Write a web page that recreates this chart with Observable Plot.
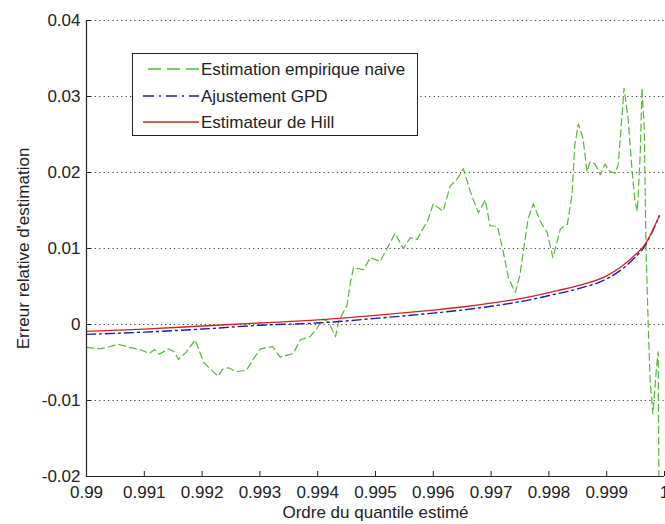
<!DOCTYPE html>
<html><head><meta charset="utf-8">
<script src="https://cdn.jsdelivr.net/npm/d3@7"></script>
<script src="https://cdn.jsdelivr.net/npm/@observablehq/plot@0.6"></script>
<style>
body{margin:0;background:#fff;}
#wrap{position:relative;width:665px;height:524px;overflow:hidden;font-family:"Liberation Sans",Arial,sans-serif;}
#legend{position:absolute;left:132px;top:53px;width:284px;height:81px;border:1px solid #222;background:#fff;}
</style></head><body><div id="wrap"></div>
<script>
const seriesNames = ["Estimation empirique naive", "Ajustement GPD", "Estimateur de Hill"];
const seriesColors = ["#55b83a", "#1c1ca8", "#d42222"];

const empiricalP = [0.99000,0.99024,0.99041,0.99055,0.99073,0.99092,0.99109,0.99118,0.99126,0.99142,0.99152,0.99159,0.99173,0.99188,0.99202,0.99213,0.99228,0.99235,0.99246,0.99259,0.99277,0.99289,0.99301,0.99322,0.99335,0.99358,0.99370,0.99387,0.99399,0.99408,0.99418,0.99431,0.99436,0.99451,0.99456,0.99462,0.99479,0.99491,0.99508,0.99520,0.99534,0.99548,0.99560,0.99572,0.99591,0.99600,0.99617,0.99629,0.99641,0.99652,0.99664,0.99678,0.99690,0.99698,0.99711,0.99721,0.99730,0.99742,0.99750,0.99764,0.99773,0.99785,0.99797,0.99807,0.99820,0.99832,0.99840,0.99845,0.99851,0.99859,0.99866,0.99871,0.99880,0.99889,0.99897,0.99906,0.99915,0.99920,0.99927,0.99930,0.99937,0.99944,0.99949,0.99953,0.99958,0.99961,0.99965,0.99968,0.99972,0.99975,0.99980,0.99986,0.99989,0.99991];
const empiricalErr = [-0.0030,-0.0032,-0.0029,-0.0026,-0.0030,-0.0033,-0.0038,-0.0033,-0.0039,-0.0032,-0.0036,-0.0046,-0.0036,-0.0020,-0.0049,-0.0058,-0.0068,-0.0059,-0.0057,-0.0062,-0.0060,-0.0045,-0.0032,-0.0029,-0.0043,-0.0038,-0.0020,-0.0016,-0.0005,0.0007,0.0004,-0.0016,0.0004,0.0026,0.0053,0.0075,0.0072,0.0088,0.0083,0.0100,0.0120,0.0100,0.0114,0.0112,0.0138,0.0159,0.0149,0.0182,0.0191,0.0205,0.0175,0.0147,0.0164,0.0130,0.0129,0.0096,0.0061,0.0042,0.0066,0.0139,0.0159,0.0136,0.0121,0.0088,0.0126,0.0132,0.0171,0.0237,0.0264,0.0245,0.0201,0.0214,0.0211,0.0197,0.0211,0.0201,0.0199,0.0211,0.0280,0.0311,0.0271,0.0201,0.0162,0.0149,0.0224,0.0311,0.0258,0.0100,-0.0005,-0.0071,-0.0118,-0.0058,-0.0036,-0.0300];

const smoothP = [0.99000,0.99100,0.99200,0.99300,0.99400,0.99500,0.99600,0.99650,0.99700,0.99750,0.99800,0.99850,0.99900,0.99925,0.99950,0.99965,0.99975,0.99985,0.99991];
const gpdErr  = [-0.0013,-0.0010,-0.0006,-0.0001,0.0002,0.0008,0.0015,0.0019,0.0024,0.0030,0.0038,0.0047,0.0060,0.0072,0.0089,0.0102,0.0116,0.0132,0.0143];
const hillErr = [-0.0009,-0.0006,-0.0002,0.0002,0.0006,0.0012,0.0019,0.0023,0.0028,0.0034,0.0042,0.0051,0.0064,0.0076,0.0092,0.0104,0.0117,0.0133,0.0143];

const xTicks = [0.99,0.991,0.992,0.993,0.994,0.995,0.996,0.997,0.998,0.999,1];
const xTickLabels = ["0.99","0.991","0.992","0.993","0.994","0.995","0.996","0.997","0.998","0.999","1"];
const yTicks = [-0.02,-0.01,0,0.01,0.02,0.03,0.04];
const yTickLabels = ["-0.02","-0.01","0","0.01","0.02","0.03","0.04"];

const empirical = empiricalP.map((p, i) => ({p, v: empiricalErr[i]}));
const gpd = smoothP.map((p, i) => ({p, v: gpdErr[i]}));
const hill = smoothP.map((p, i) => ({p, v: hillErr[i]}));

const ink = "#222";
const plot = Plot.plot({
  width: 665, height: 524,
  marginLeft: 86, marginRight: 1, marginTop: 20, marginBottom: 48,
  style: {fontFamily: "'Liberation Sans', Arial, sans-serif", fontSize: "17px", background: "white", color: ink, overflow: "visible"},
  x: {domain: [0.99, 1]},
  y: {domain: [-0.02, 0.04]},
  marks: [
    Plot.gridY(yTicks.slice(1), {stroke: ink, strokeOpacity: 0.85, strokeDasharray: "1.2,3.2", strokeWidth: 1}),
    Plot.line(empirical, {x: "p", y: "v", stroke: seriesColors[0], strokeWidth: 1.2, strokeDasharray: "7,4", clip: true}),
    Plot.line(gpd, {x: "p", y: "v", stroke: seriesColors[1], strokeWidth: 1.4, strokeDasharray: "9,4,2,4", curve: "monotone-x"}),
    Plot.line(hill, {x: "p", y: "v", stroke: seriesColors[2], strokeWidth: 1.3, curve: "monotone-x"}),
    Plot.ruleX([0.99], {stroke: ink, strokeWidth: 1.2}),
    Plot.ruleY([-0.02], {stroke: ink, strokeWidth: 1.2}),
    Plot.axisX(xTicks, {tickSize: -5, tickPadding: 14, stroke: ink, tickFormat: d => xTickLabels[xTicks.indexOf(d)],
      label: "Ordre du quantile estimé", labelAnchor: "center", labelOffset: 41, labelArrow: "none"}),
    Plot.axisY(yTicks, {tickSize: -5, tickPadding: 11, stroke: ink, tickFormat: d => yTickLabels[yTicks.indexOf(d)],
      label: "Erreur relative d'estimation", labelAnchor: "center", labelOffset: 70, labelArrow: "none"})
  ]
});
const wrap = document.getElementById("wrap");
wrap.appendChild(plot);

// legend
const leg = document.createElement("div");
leg.id = "legend";
wrap.appendChild(leg);
const ls = d3.select(leg).append("svg").attr("width", 284).attr("height", 81)
  .style("font-family", "'Liberation Sans', Arial, sans-serif").style("font-size", "17px");
const rowsY = [15, 42, 68];
const dashes = ["13,6", "11,5,2,5", null];
seriesNames.forEach((name, i) => {
  ls.append("line").attr("x1", i === 0 ? 15 : 10).attr("x2", 66).attr("y1", rowsY[i]).attr("y2", rowsY[i])
    .attr("stroke", seriesColors[i]).attr("stroke-width", 1.3).attr("stroke-dasharray", dashes[i]);
  ls.append("text").attr("x", 68).attr("y", rowsY[i]).attr("dy", "0.35em").attr("fill", ink).text(name);
});
</script>
</body></html>
